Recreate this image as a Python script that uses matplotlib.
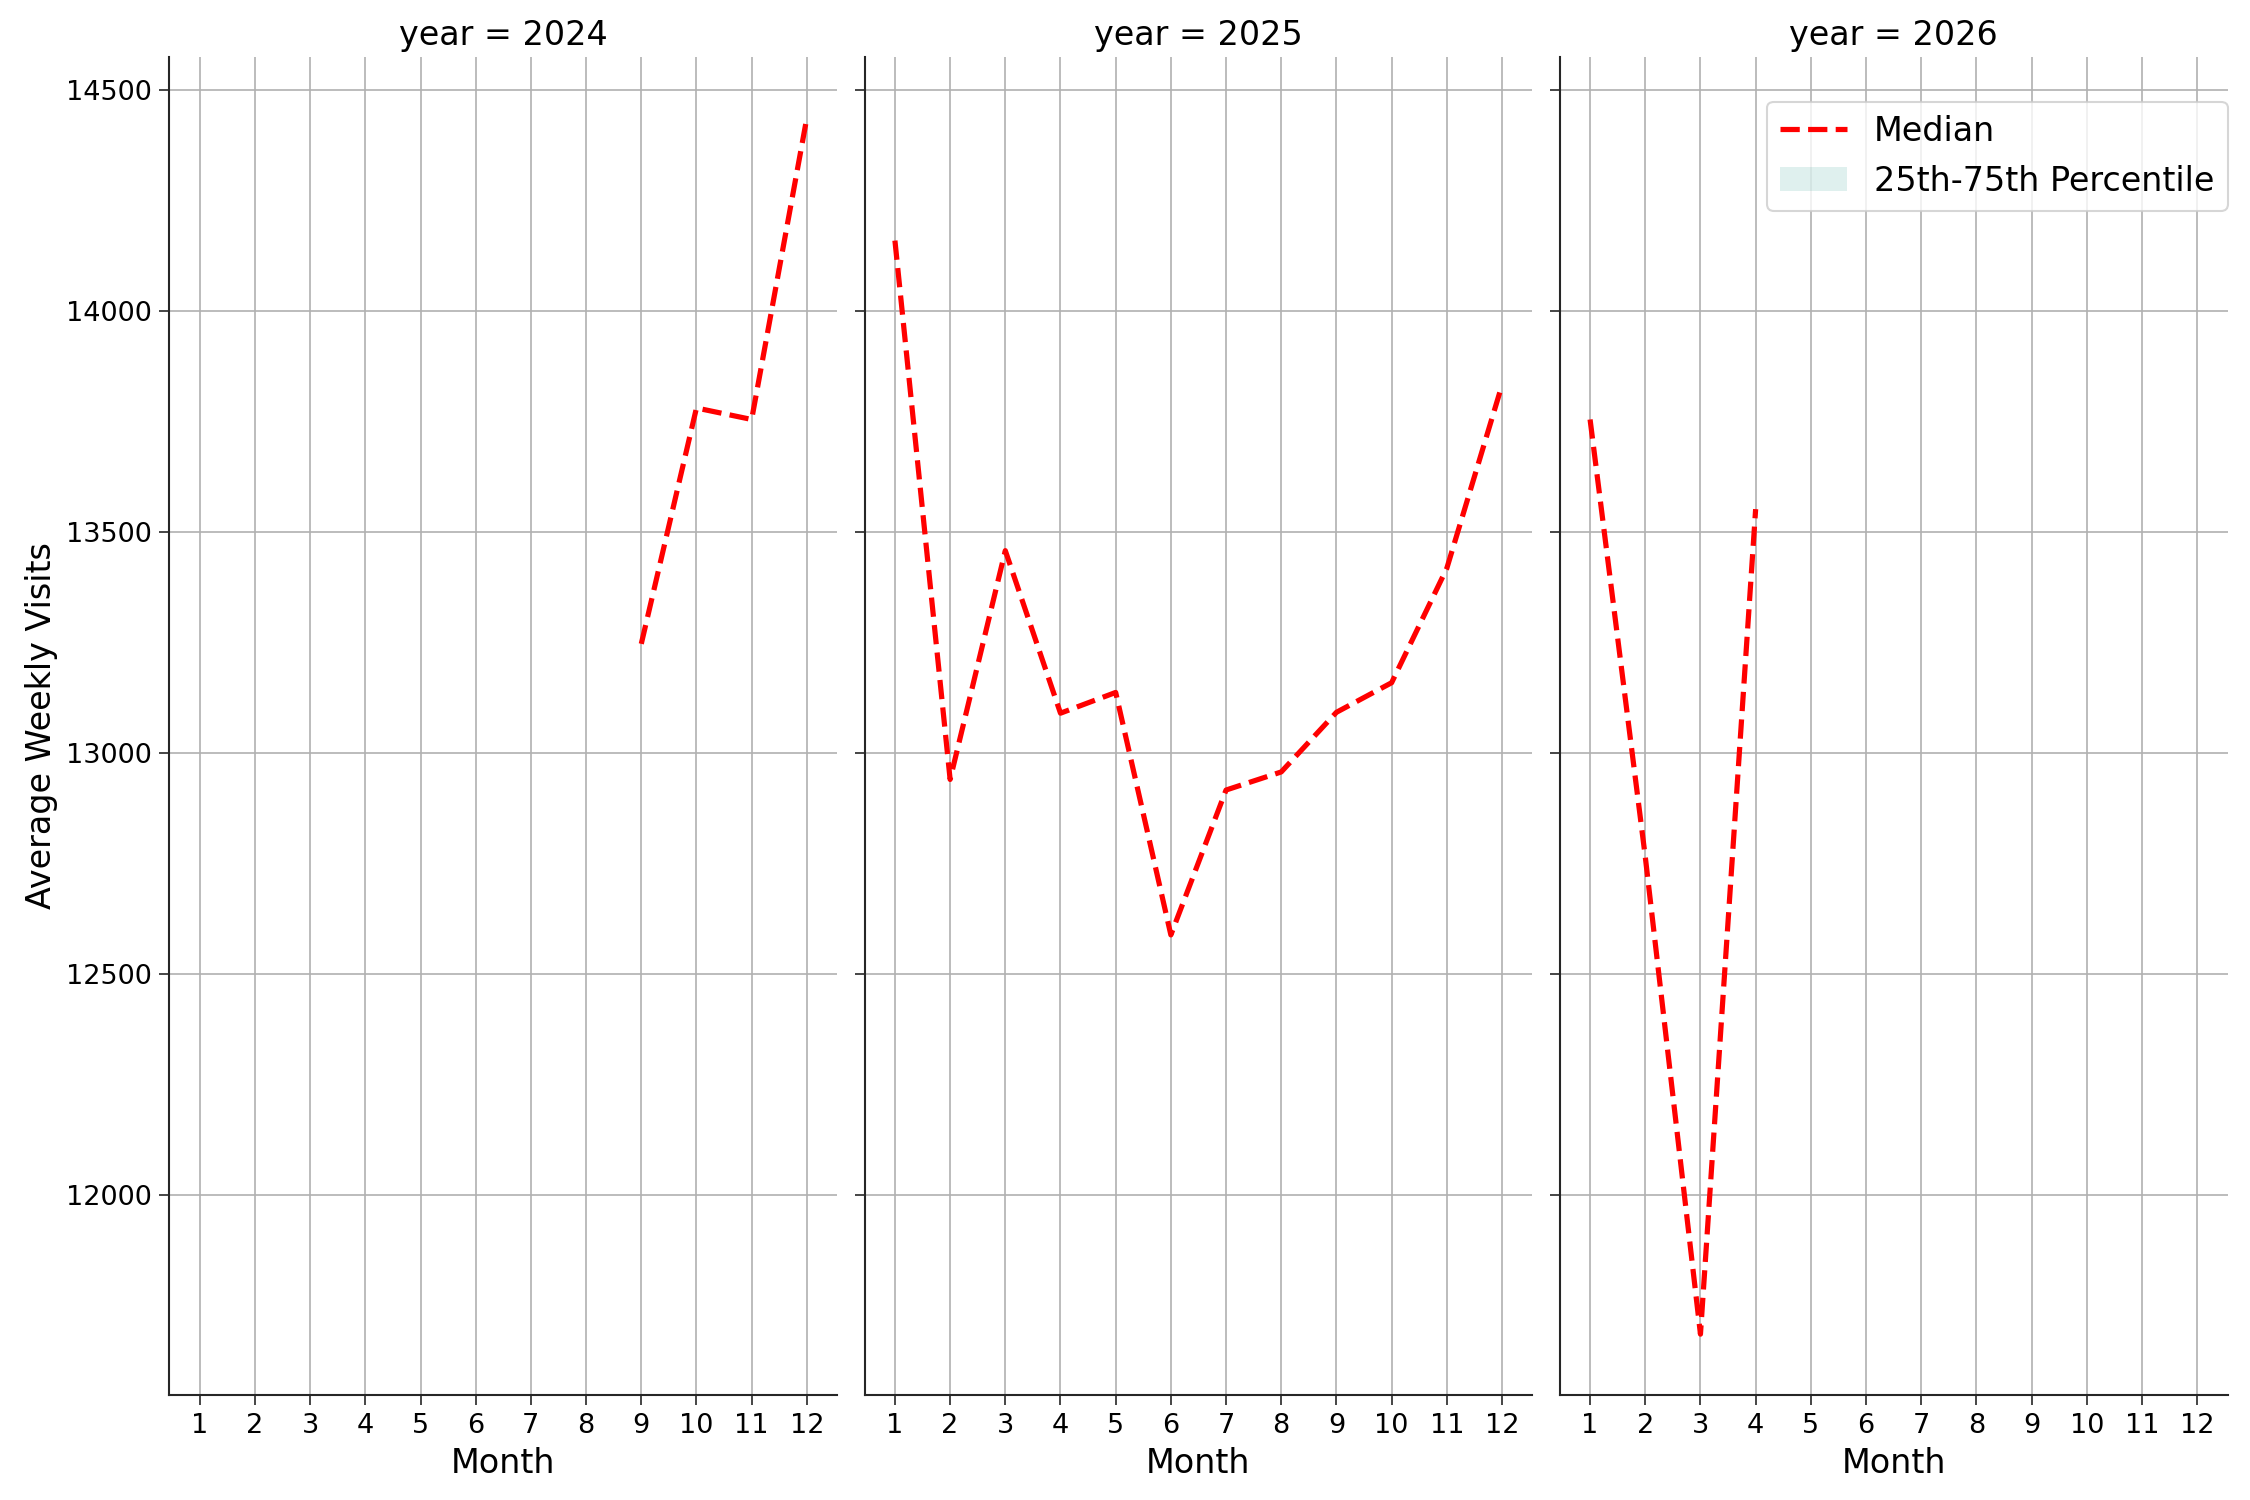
import matplotlib
matplotlib.use("Agg")
import matplotlib.pyplot as plt
import numpy as np

years = [2024, 2025, 2026]
months_2024 = [9, 10, 11, 12]
median_2024 = [13247, 13781, 13755, 14438]
months_2025 = [1, 2, 3, 4, 5, 6, 7, 8, 9, 10, 11, 12]
median_2025 = [14160, 12940, 13458, 13090, 13137, 12588, 12916, 12957, 13092, 13159, 13418, 13833]
months_2026 = [1, 2, 3, 4]
median_2026 = [13755, 12765, 11684, 13552]
month_ticks = list(range(1, 13))

series = {
    2024: (months_2024, median_2024),
    2025: (months_2025, median_2025),
    2026: (months_2026, median_2026),
}

plt.rcParams['font.family'] = ['DejaVu Sans']
fig, axes = plt.subplots(1, 3, figsize=(15, 10), dpi=150, sharey=True)
fig.subplots_adjust(left=0.0753, right=0.990, top=0.962, bottom=0.070, wspace=0.041)

for ax, yr in zip(axes, years):
    m, med = series[yr]
    ax.plot(m, med, color='red', linestyle='--', linewidth=2.5, label='Median', zorder=3)
    ax.fill_between(m, med, med, color='#2a9d8f', alpha=0.15, linewidth=0,
                    label='25th-75th Percentile')
    ax.set_xticks(month_ticks)
    ax.set_xlim(0.45, 12.55)
    ax.grid(True, color='#b0b0b0', linewidth=0.8)
    ax.set_axisbelow(True)
    for s in ['top', 'right']:
        ax.spines[s].set_visible(False)
    for s in ['left', 'bottom']:
        ax.spines[s].set_color('#262626')
        ax.spines[s].set_linewidth(1.0)
    ax.tick_params(axis='both', labelsize=13, colors='#262626', labelcolor='black', length=5)
    ax.set_xlabel('Month', fontsize=16)
    ax.set_title(f'year = {yr}', fontsize=16)

axes[0].set_ylabel('Average Weekly Visits', fontsize=16)
axes[0].set_yticks([12000, 12500, 13000, 13500, 14000, 14500])
axes[2].legend(loc='upper right', fontsize=16, bbox_to_anchor=(1.025, 0.979))

fig.savefig('out.png', dpi=150)
